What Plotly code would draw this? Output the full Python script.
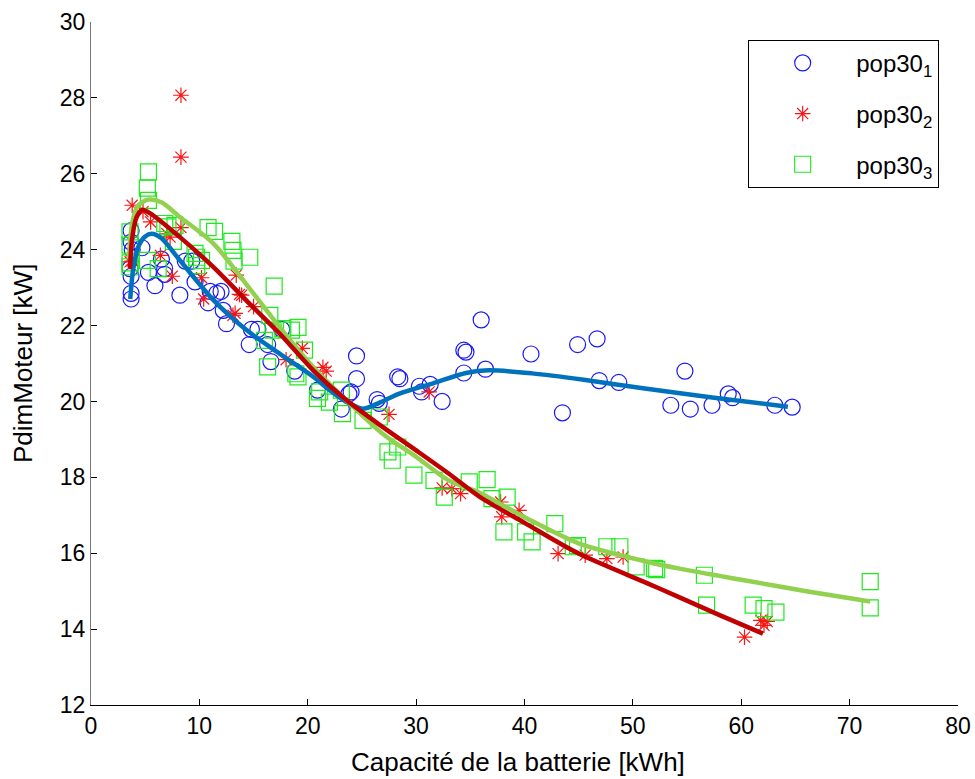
import plotly.graph_objects as go

# ---- data ----
pop1_x = [3.7, 3.7, 3.8, 3.6, 3.7, 3.7, 3.7, 4.7, 5.3, 5.9, 6.5, 6.8, 6.8, 8.2, 8.7, 9.3, 9.6,
          10.8, 11.0, 11.6, 12.0, 12.2, 12.5, 14.6, 14.8, 15.4, 16.3, 16.6, 17.6, 18.8, 20.9,
          23.1, 23.8, 24.0, 24.5, 24.5, 26.4, 26.6, 28.3, 28.5, 30.3, 30.5, 31.3, 32.4, 34.4,
          34.6, 34.4, 36.0, 36.4, 40.6, 43.5, 44.9, 46.7, 46.9, 48.7, 54.8, 53.5, 55.3, 57.3,
          58.8, 59.2, 63.1, 64.7]
pop1_y = [24.5, 24.2, 24.0, 23.5, 23.3, 22.85, 22.7, 24.05, 23.4, 23.05, 23.75, 23.5, 23.35, 22.8,
          23.7, 23.7, 23.15, 22.6, 22.9, 22.85, 22.9, 22.4, 22.05, 21.5, 21.9, 21.9, 21.5, 21.05,
          21.9, 20.8, 20.3, 19.8, 20.2, 20.25, 21.2, 20.6, 20.05, 19.95, 20.65, 20.6, 20.4, 20.25,
          20.45, 20.0, 21.35, 21.3, 20.75, 22.15, 20.85, 21.25, 19.7, 21.5, 21.65, 20.55, 20.5,
          20.8, 19.9, 19.8, 19.9, 20.2, 20.1, 19.9, 19.85]

pop2_x = [8.3, 8.3, 3.8, 4.8, 5.5, 8.3, 7.0, 7.3, 3.6, 3.8, 6.4, 7.5, 10.2, 10.4, 13.7, 13.9,
          13.3, 13.4, 15.0, 13.1, 18.0, 19.5, 21.4, 21.7, 27.5, 31.2, 32.4, 33.3, 34.1, 37.8,
          39.5, 37.9, 43.1, 45.6, 47.6, 49.1, 60.3, 61.8, 62.1, 62.4]
pop2_y = [28.07, 26.44, 25.17, 25.0, 24.73, 24.58, 24.42, 24.33, 23.68, 23.7, 23.85, 23.3, 23.26,
          22.7, 22.82, 22.8, 22.32, 23.33, 22.5, 22.27, 21.1, 21.4, 20.9, 20.8, 19.66, 20.25,
          17.72, 17.7, 17.57, 17.35, 17.13, 16.96, 15.99, 15.95, 15.86, 15.9, 13.79, 14.23,
          14.1, 14.2]

pop3_x = [5.3, 5.2, 5.3, 3.6, 3.6, 3.6, 3.6, 5.2, 6.2, 6.8, 7.1, 7.6, 7.75, 9.6, 9.75, 10.2,
          9.75, 10.8, 11.4, 13.0, 13.1, 13.2, 14.65, 16.9, 16.5, 16.8, 17.7, 19.1, 18.5, 16.0,
          19.7, 16.3, 18.9, 19.1, 20.9, 21.1, 22.0, 23.1, 23.2, 25.1, 26.6, 27.4, 27.8, 28.3,
          29.8, 31.65, 32.6, 34.9, 36.55, 37.0, 38.4, 38.1, 40.1, 40.7, 42.8, 44.5, 44.9, 47.6,
          48.8, 50.3, 52.0, 52.2, 56.6, 56.8, 61.1, 62.1, 63.2, 71.9, 71.9]
pop3_y = [26.05, 25.62, 25.3, 24.47, 24.12, 23.65, 23.55, 23.72, 23.5, 24.69, 24.6, 24.22, 24.64,
          23.9, 23.8, 23.72, 23.58, 24.58, 24.48, 24.22, 23.98, 23.7, 23.8, 23.04, 22.27, 21.88,
          21.92, 21.95, 21.88, 21.61, 21.35, 20.91, 20.73, 20.65, 20.08, 20.25, 19.98, 20.3,
          19.68, 19.5, 19.59, 18.67, 18.45, 18.8, 18.06, 17.92, 17.48, 17.88, 17.94, 17.44,
          17.48, 16.56, 16.56, 16.3, 16.78, 16.17, 16.2, 16.17, 16.17, 15.64, 15.6, 15.57,
          15.42, 14.63, 14.63, 14.54, 14.45, 15.25, 14.56]

fit1_x = [3.62, 3.9, 4.4, 5.0, 5.6, 6.5, 8.2, 11.3, 14.35, 17.4, 20.5, 22.0, 23.5, 25.1, 26.5,
          28.4, 31.5, 34.6, 36.7, 40.7, 45.3, 51.1, 57.5, 64.3]
fit1_y = [22.7, 23.5, 24.1, 24.35, 24.42, 24.3, 23.72, 22.67, 21.88, 21.26, 20.65, 20.3, 20.0,
          19.81, 19.95, 20.2, 20.47, 20.75, 20.82, 20.74, 20.58, 20.34, 20.1, 19.86]

fit2_x = [3.6, 3.8, 4.2, 4.7, 5.5, 8.2, 11.3, 14.3, 17.4, 20.5, 23.5, 26.9, 30.0, 33.0, 35.8,
          40.0, 45.0, 51.4, 54.2, 58.0, 62.0]
fit2_y = [23.5, 24.3, 24.85, 25.05, 24.95, 24.33, 23.54, 22.67, 21.79, 20.82, 20.05, 19.33,
          18.71, 18.1, 17.5, 16.8, 15.99, 15.2, 14.85, 14.37, 13.88]

fit3_x = [3.5, 3.8, 4.3, 5.3, 6.5, 8.2, 11.3, 14.3, 17.4, 20.5, 23.5, 26.9, 30.0, 33.0, 35.8,
          40.0, 45.0, 51.4, 54.2, 60.0, 66.0, 71.9]
fit3_y = [23.8, 24.7, 25.15, 25.32, 25.25, 24.86, 24.16, 23.1, 21.96, 20.91, 20.05, 19.15,
          18.54, 17.92, 17.6, 16.95, 16.26, 15.77, 15.6, 15.3, 15.0, 14.73]

names = ["pop30<sub>1</sub>", "pop30<sub>2</sub>", "pop30<sub>3</sub>"]
x_ticks = list(range(0, 81, 10))
y_ticks = list(range(12, 31, 2))
x_title = "Capacité de la batterie [kWh]"
y_title = "PdimMoteur [kW]"

FONT = "Liberation Sans, Arial, sans-serif"

fig = go.Figure()
fig.add_trace(go.Scatter(x=pop1_x, y=pop1_y, mode="markers", name=names[0], legendgroup="a",
                         marker=dict(symbol="circle-open", size=16, color="rgb(25,25,245)",
                                     line=dict(width=1.2))))
fig.add_trace(go.Scatter(x=pop2_x, y=pop2_y, mode="markers", name=names[1], legendgroup="b",
                         marker=dict(symbol="asterisk-open", size=13, color="rgb(250,20,20)",
                                     line=dict(width=1.2))))
fig.add_trace(go.Scatter(x=pop3_x, y=pop3_y, mode="markers", name=names[2], legendgroup="c",
                         marker=dict(symbol="square-open", size=16, color="rgb(30,235,30)",
                                     line=dict(width=1.2))))
fig.add_trace(go.Scatter(x=fit1_x, y=fit1_y, mode="lines", showlegend=False,
                         line=dict(color="rgb(0,114,189)", width=4.5, shape="spline", smoothing=0.8)))
fig.add_trace(go.Scatter(x=fit3_x, y=fit3_y, mode="lines", showlegend=False,
                         line=dict(color="rgb(146,208,80)", width=4.5, shape="spline", smoothing=0.8)))
fig.add_trace(go.Scatter(x=fit2_x, y=fit2_y, mode="lines", showlegend=False,
                         line=dict(color="rgb(192,0,0)", width=4.5, shape="spline", smoothing=0.8)))

fig.update_layout(
    width=975, height=779,
    margin=dict(l=91, r=17, t=22, b=74, autoexpand=False),
    paper_bgcolor="white", plot_bgcolor="white",
    font=dict(family=FONT, size=23, color="black"),
    showlegend=True,
    legend=dict(x=0.758, y=0.974, xanchor="left", yanchor="top",
                bordercolor="black", borderwidth=1, bgcolor="white",
                font=dict(size=24), tracegroupgap=16.5, itemwidth=97),
    xaxis=dict(range=[0, 80], tickvals=x_ticks, showgrid=False, zeroline=False, automargin=False,
               showline=True, linecolor="black", linewidth=1, ticks="inside", ticklen=6,
               tickcolor="black", tickfont=dict(size=23)),
    yaxis=dict(range=[12, 30], tickvals=y_ticks, showgrid=False, zeroline=False, automargin=False,
               showline=True, linecolor="rgb(120,120,120)", linewidth=1, ticks="inside",
               ticklen=6, tickcolor="black", tickfont=dict(size=23)),
    annotations=[
        dict(text=x_title, xref="paper", yref="paper", x=0.492, y=-0.0835,
             xanchor="center", yanchor="middle", showarrow=False, font=dict(size=26)),
        dict(text=y_title, xref="paper", yref="paper", x=-0.079, y=0.50,
             xanchor="center", yanchor="middle", showarrow=False, textangle=-90,
             font=dict(size=26)),
    ],
)

fig.write_html("out.html", config={"displayModeBar": False},
               post_script="document.body.style.margin='0px';document.body.style.overflow='hidden';")
